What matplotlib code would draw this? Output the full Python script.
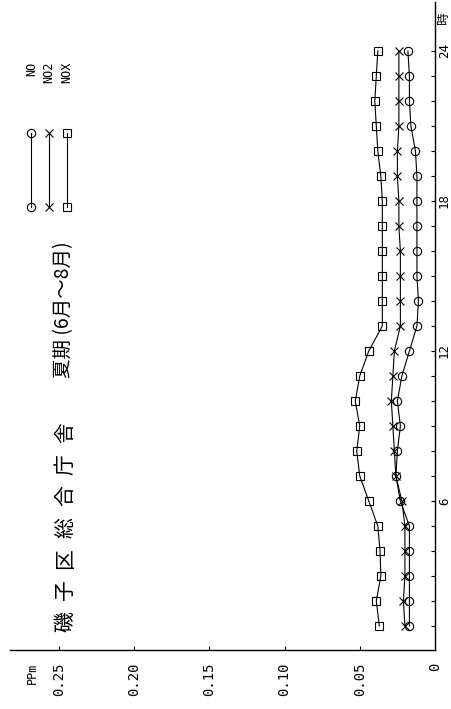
import numpy as np
import matplotlib
matplotlib.use("Agg")
import matplotlib.pyplot as plt
from matplotlib.lines import Line2D

# hourly means, summer (Jun-Aug)
hours = np.arange(1, 25)
no = [0.017, 0.017, 0.017, 0.017, 0.017, 0.023, 0.026, 0.025, 0.023, 0.025, 0.022, 0.017,
      0.012, 0.011, 0.012, 0.012, 0.012, 0.012, 0.012, 0.013, 0.016, 0.017, 0.017, 0.018]
no2 = [0.020, 0.021, 0.020, 0.020, 0.020, 0.022, 0.026, 0.027, 0.028, 0.029, 0.028, 0.027,
       0.023, 0.023, 0.023, 0.023, 0.024, 0.024, 0.025, 0.025, 0.024, 0.024, 0.024, 0.024]
nox = [0.037, 0.039, 0.036, 0.0365, 0.038, 0.044, 0.050, 0.052, 0.050, 0.053, 0.050, 0.044,
       0.035, 0.035, 0.035, 0.035, 0.035, 0.035, 0.036, 0.038, 0.039, 0.040, 0.039, 0.038]

series_names = ["NO", "NO2", "NOX"]
series_markers = ["o", "x", "s"]
ppm_ticks = [0, 0.05, 0.10, 0.15, 0.20, 0.25]
ppm_labels = ["0", "0.05", "0.10", "0.15", "0.20", "0.25"]
hour_labels = {6: "6", 12: "12", 18: "18", 24: "24"}

title_chars = "磯子区総合庁舎"
subtitle = "夏期 (6月～8月)"

W, H = 452, 709
fig = plt.figure(figsize=(W / 100, H / 100), dpi=100)


def fx(x):
    return x / W


def fy(y):
    return 1 - y / H


# the whole chart is turned 90 degrees: ppm runs right->left, hours bottom->top
ax = fig.add_axes([fx(10), fy(650), fx(435) - fx(10), fy(2) - fy(650)])
ax.set_xlim(0.2824, 0)
ax.set_ylim(0.04, 25.96)

for vals, mk in zip([no, no2, nox], series_markers):
    ax.plot(vals, hours, color="black", lw=0.8, marker=mk, ms=6 if mk != "x" else 5.5,
            mfc="none", mec="black", mew=0.8)

for s in ["top", "left"]:
    ax.spines[s].set_visible(False)
ax.spines["bottom"].set_linewidth(1.0)
ax.spines["right"].set_linewidth(1.0)

ax.set_xticks(ppm_ticks)
ax.set_xticklabels(ppm_labels, rotation=90, fontfamily="DejaVu Sans Mono", fontsize=10)
ax.tick_params(axis="x", direction="in", length=3, pad=9)

ax.yaxis.tick_right()
ax.set_yticks(hours)
ax.set_yticklabels([hour_labels.get(h, "") for h in hours], rotation=90,
                   fontfamily="DejaVu Sans Mono", fontsize=9, va="center")
ax.tick_params(axis="y", direction="in", length=3, pad=2)

fig.text(fx(32), fy(663), "PPm", rotation=90, ha="center", va="top",
         family="DejaVu Sans Mono", fontsize=8.5)
fig.text(fx(444), fy(18), "時", rotation=90, ha="center", va="center",
         family=["Noto Sans CJK JP", "DejaVu Sans"], fontsize=9)

# title, one character at a time
for i, ch in enumerate(title_chars):
    fig.text(fx(65), fy(622 - 31.5 * i), ch, rotation=90, ha="center", va="center",
             family=["Noto Sans CJK JP", "DejaVu Sans"], fontsize=15)
fig.text(fx(64), fy(310), subtitle, rotation=90, ha="center", va="center",
         family=["Noto Sans CJK JP", "DejaVu Sans"], fontsize=14)

# legend: vertical line segments with markers at both ends
for i, (name, mk) in enumerate(zip(series_names, series_markers)):
    x = fx(31.5 + 17.5 * i)
    fig.add_artist(Line2D([x, x], [fy(133), fy(207)], color="black", lw=0.8,
                          marker=mk, ms=6 if mk != "x" else 5.5, mfc="none",
                          mec="black", mew=0.8))
    fig.text(x, fy(62), name, rotation=90, ha="center", va="top",
             family="DejaVu Sans Mono", fontsize=8.5)

fig.savefig("out.png", dpi=100)
